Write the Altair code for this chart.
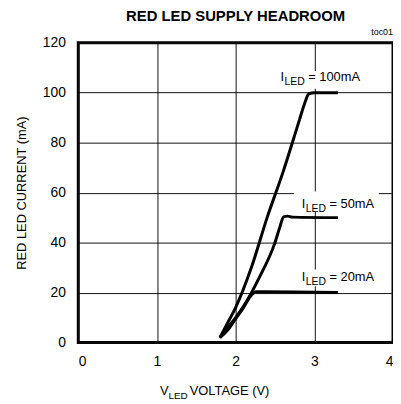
import altair as alt
import pandas as pd

# ---- curve data (V, mA) ----
v_100 = [1.80, 1.90, 2.00, 2.20, 2.40, 2.60, 2.80, 2.88, 2.93, 3.00, 3.30]
i_100 = [2.0, 8.0, 14.0, 30.0, 50.0, 68.0, 88.0, 96.0, 99.5, 100.0, 100.0]

v_50 = [1.80, 1.90, 2.00, 2.10, 2.30, 2.50, 2.56, 2.61, 2.66, 2.72, 3.30]
i_50 = [2.0, 6.0, 10.0, 14.5, 26.0, 40.0, 46.0, 50.3, 50.6, 50.2, 50.0]

v_20 = [1.80, 1.90, 2.00, 2.10, 2.20, 2.26, 2.36, 3.30]
i_20 = [2.0, 5.0, 9.5, 14.0, 19.0, 20.3, 20.3, 20.0]

# ---- curve labels ----
lbl_v = [2.57, 2.84, 2.84]
lbl_i = [104.6, 54.0, 24.6]
lbl_main = ["I", "I", "I"]
lbl_sub = ["LED", "LED", "LED"]
lbl_rest = ["= 100mA", "= 50mA", "= 20mA"]

# white backgrounds behind labels (gridline gaps)
bg_v1 = [2.50, 2.74, 2.74]
bg_v2 = [3.75, 3.82, 3.80]
bg_i1 = [101.6, 52.2, 22.5]
bg_i2 = [108.7, 60.5, 29.2]

# x-axis title pieces (placed in data units below the axis)
xt_v = [1.04]
xt_i = [-20.8]

FONT = "Liberation Sans"

curves = pd.concat([
    pd.DataFrame({"v": v_100, "i": i_100, "s": "100"}),
    pd.DataFrame({"v": v_50, "i": i_50, "s": "50"}),
    pd.DataFrame({"v": v_20, "i": i_20, "s": "20"}),
])
labels = pd.DataFrame({"v": lbl_v, "i": lbl_i, "m": lbl_main, "sub": lbl_sub, "rest": lbl_rest})
bgs = pd.DataFrame({"v1": bg_v1, "v2": bg_v2, "i1": bg_i1, "i2": bg_i2})
xt = pd.DataFrame({"v": xt_v, "i": xt_i, "m": ["V"], "sub": ["LED"], "rest": ["VOLTAGE (V)"]})
toc = pd.DataFrame({"v": [4.0], "i": [123.0], "t": ["toc01"]})

xs = alt.Scale(domain=[0, 4], nice=False)
ys = alt.Scale(domain=[0, 120], nice=False)

X = alt.X("v:Q", scale=xs,
          axis=alt.Axis(values=[0, 1, 2, 3, 4], format="d", title=None, domain=False, ticks=False,
                        labelPadding=12, labelFontSize=14, labelFont=FONT, labelColor="black",
                        grid=True, gridColor="#111", gridWidth=1))
Y = alt.Y("i:Q", scale=ys,
          axis=alt.Axis(values=[0, 20, 40, 60, 80, 100, 120], format="d", title="RED LED CURRENT (mA)",
                        titleFont=FONT, titleFontSize=13, titleFontWeight="normal",
                        titleColor="black", titlePadding=14,
                        domain=False, ticks=False, labelPadding=13, labelFontSize=14,
                        labelFont=FONT, labelColor="black",
                        grid=True, gridColor="#111", gridWidth=1))

base_lines = alt.Chart(curves).mark_line(color="black", strokeWidth=3, interpolate="monotone").encode(
    x=X, y=Y, detail="s:N")

rects = alt.Chart(bgs).mark_rect(color="white").encode(
    x=alt.X("v1:Q", scale=xs), x2="v2:Q",
    y=alt.Y("i1:Q", scale=ys), y2="i2:Q")

def labeled(df, size, subsize, dx_sub, dx_rest):
    m = alt.Chart(df).mark_text(align="left", baseline="alphabetic", font=FONT, fontSize=size,
                                color="black").encode(
        x=alt.X("v:Q", scale=xs), y=alt.Y("i:Q", scale=ys), text="m:N")
    s = alt.Chart(df).mark_text(align="left", baseline="alphabetic", font=FONT, fontSize=subsize,
                                color="black", dx=dx_sub, dy=4).encode(
        x=alt.X("v:Q", scale=xs), y=alt.Y("i:Q", scale=ys), text="sub:N")
    r = alt.Chart(df).mark_text(align="left", baseline="alphabetic", font=FONT, fontSize=size,
                                color="black", dx=dx_rest).encode(
        x=alt.X("v:Q", scale=xs), y=alt.Y("i:Q", scale=ys), text="rest:N")
    return m + s + r

curve_labels = labeled(labels, 13, 10.5, 4, 28)
x_title = labeled(xt, 13, 10, 8.5, 30)

toc_text = alt.Chart(toc).mark_text(align="right", baseline="alphabetic", font=FONT, fontSize=9,
                                    color="black").encode(
    x=alt.X("v:Q", scale=xs), y=alt.Y("i:Q", scale=ys), text="t:N")

chart = alt.layer(rects, base_lines, curve_labels, x_title, toc_text).properties(
    width=318, height=303,
    title=alt.TitleParams("RED LED SUPPLY HEADROOM", font=FONT, fontSize=15, fontWeight="bold",
                          color="black", anchor="middle", frame="group", offset=4),
    autosize=alt.AutoSizeParams(type="none"),
    padding={"left": 71, "top": 33, "right": 0, "bottom": 58},
).configure_view(stroke="black", strokeWidth=3)

chart.save("out.html", embed_options={"renderer": "svg", "actions": False})
